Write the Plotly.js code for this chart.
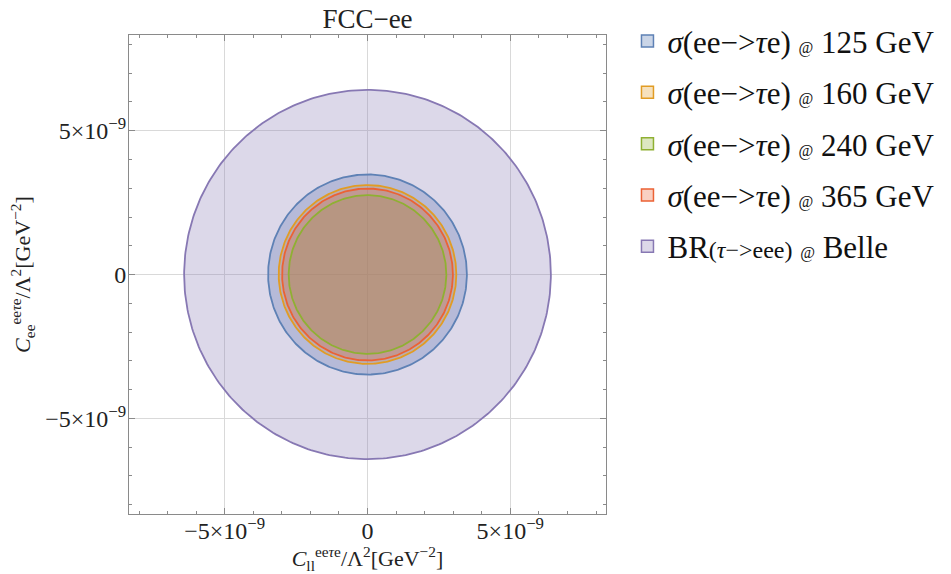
<!DOCTYPE html>
<html>
<head>
<meta charset="utf-8">
<script src="https://cdn.plot.ly/plotly-3.0.1.min.js"></script>
<style>html,body{margin:0;padding:0;background:#fff;}#chart{width:951px;height:574px;}</style>
</head>
<body>
<div id="chart"></div>
<script>
// ---- data ----
const seriesNames = [
  '<i>σ</i>(ee−><i>τ</i>e) <span style="font-size:16px">@</span> 125 GeV',
  '<i>σ</i>(ee−><i>τ</i>e) <span style="font-size:16px">@</span> 160 GeV',
  '<i>σ</i>(ee−><i>τ</i>e) <span style="font-size:16px">@</span> 240 GeV',
  '<i>σ</i>(ee−><i>τ</i>e) <span style="font-size:16px">@</span> 365 GeV',
  'BR<span style="font-size:24px">(<i>τ</i>−>eee)</span> <span style="font-size:16px">@</span> Belle'
];
const radii = [3.48e-9, 3.11e-9, 2.76e-9, 2.99e-9, 6.42e-9];   // bound radius in (C_ll, C_ee) plane
const centerX = [0, 0, 0, 0, 0];
const centerY = [0, 0, 0, 0, 0];
const lineColors = ['#5e81b5', '#e19c24', '#8fb032', '#eb6235', '#8778b3'];
const fillColors = ['rgba(94,129,181,0.33)', 'rgba(225,156,36,0.30)', 'rgba(143,176,50,0.30)', 'rgba(235,98,53,0.30)', 'rgba(135,120,179,0.29)'];
const tickVals = [-5e-9, 0, 5e-9];
const tickText = ['−5×10<sup>−9</sup>', '0', '5×10<sup>−9</sup>'];

// ---- build traces ----
function circlePts(cx, cy, r) {
  const xs = [], ys = [];
  const n = 360;
  for (let i = 0; i <= n; i++) {
    const t = 2 * Math.PI * i / n;
    xs.push(cx + r * Math.cos(t));
    ys.push(cy + r * Math.sin(t));
  }
  return {xs, ys};
}
const traces = [];
// fills first (legend order), then boundaries on top
radii.forEach((r, i) => {
  const p = circlePts(centerX[i], centerY[i], r);
  traces.push({
    type: 'scatter', mode: 'lines', x: p.xs, y: p.ys,
    fill: 'toself', fillcolor: fillColors[i],
    line: {color: 'rgba(0,0,0,0)', width: 0},
    showlegend: false, hoverinfo: 'skip'
  });
});
radii.forEach((r, i) => {
  const p = circlePts(centerX[i], centerY[i], r);
  traces.push({
    type: 'scatter', mode: 'lines', x: p.xs, y: p.ys,
    line: {color: lineColors[i], width: 1.8},
    showlegend: false, hoverinfo: 'skip'
  });
});
radii.forEach((r, i) => {
  traces.push({
    type: 'scatter', mode: 'markers', x: [null], y: [null],
    name: seriesNames[i], legendgroup: 'g' + i,
    marker: {symbol: 'square', size: 12, color: fillColors[i], line: {color: lineColors[i], width: 1.5}},
    hoverinfo: 'skip'
  });
});

const axisFont = {family: 'Liberation Serif, Times New Roman, serif', size: 24, color: '#222'};
const baseAxis = {
  tickmode: 'array', tickvals: tickVals, ticktext: tickText,
  ticks: 'inside', ticklen: 6, tickwidth: 1, tickcolor: '#8a8a8a',
  showline: true, linecolor: '#8a8a8a', linewidth: 1, mirror: 'allticks',
  showgrid: true, gridcolor: '#d9d9d9', gridwidth: 1, zeroline: false,
  tickfont: axisFont,
  minor: {tickmode: 'linear', tick0: 0, dtick: 1e-9, ticks: 'inside', ticklen: 3, tickcolor: '#8a8a8a', showgrid: false}
};

const layout = {
  width: 951, height: 574,
  margin: {l: 129, r: 343, t: 35, b: 60},
  paper_bgcolor: '#fff', plot_bgcolor: '#fff',
  font: {family: 'Liberation Serif, Times New Roman, serif', color: '#222'},
  title: {text: 'FCC−ee', font: {family: 'Liberation Serif, serif', size: 27, color: '#222'},
          x: 0.5, xref: 'paper', xanchor: 'center', y: 0.968, yref: 'container', yanchor: 'middle'},
  xaxis: Object.assign({}, baseAxis, {
    range: [-8.35e-9, 8.35e-9], ticklabelstandoff: -5,
    title: {text: '<i>C</i><sub>ll</sub><sup>ee<i>τ</i>e</sup>/Λ<sup>2</sup>[GeV<sup>−2</sup>]', font: {family: 'Liberation Serif, serif', size: 22, color: '#222'}, standoff: 4}
  }),
  yaxis: Object.assign({}, baseAxis, {
    range: [-8.33e-9, 8.33e-9], ticklabelstandoff: -3,
    title: {text: '<i>C</i><sub>ee</sub><sup>ee<i>τ</i>e</sup>/Λ<sup>2</sup>[GeV<sup>−2</sup>]', font: {family: 'Liberation Serif, serif', size: 22, color: '#222'}, standoff: 8}
  }),
  legend: {
    x: 1.045, xanchor: 'left', y: 1.043, yanchor: 'top',
    font: {family: 'Liberation Serif, Times New Roman, serif', size: 31, color: '#111'},
    tracegroupgap: 8, bgcolor: 'rgba(0,0,0,0)', itemwidth: 30
  },
  showlegend: true
};

Plotly.newPlot('chart', traces, layout, {displayModeBar: false, staticPlot: true});
</script>
</body>
</html>
